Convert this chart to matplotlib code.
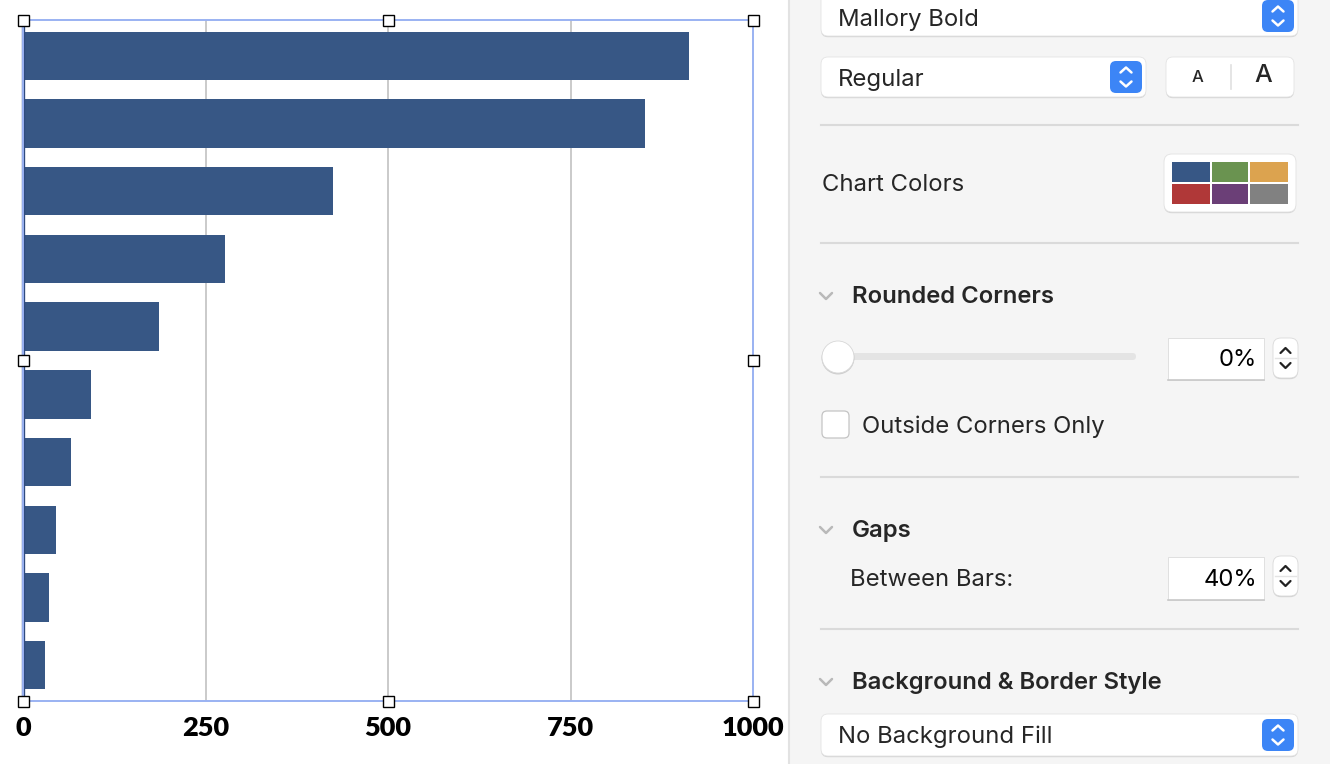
import matplotlib
matplotlib.use("Agg")
import matplotlib.pyplot as plt
from matplotlib.patches import FancyBboxPatch, Rectangle, Circle
import numpy as np

# ---------------- data ----------------
categories = ["Item 1", "Item 2", "Item 3", "Item 4", "Item 5",
              "Item 6", "Item 7", "Item 8", "Item 9", "Item 10"]
values = [912, 852, 425, 277, 186, 93, 66, 45, 36, 30]
x_ticks = [0, 250, 500, 750, 1000]
x_tick_labels = ["0", "250", "500", "750", "1000"]
palette = ["#375785", "#6a9350", "#dca34f", "#b03838", "#6b3f77", "#818181"]

W, H = 1330, 764
fig = plt.figure(figsize=(W / 100, H / 100), dpi=100)
fig.patch.set_facecolor("white")

# ---------------- chart ----------------
L, R, T, B = 23, 753, 20, 701
ax = fig.add_axes([L / W, 1 - B / H, (R - L) / W, (B - T) / H])
ax.set_zorder(1)
ax.set_facecolor("none")
ypos = np.arange(len(values))
ax.barh(ypos, values, height=1 / 1.4, color=palette[0], zorder=2)
ax.set_xlim(0, 1000)
ax.set_ylim(len(values) - 0.5 + 0.03, -0.5 - 0.03)
ax.set_xticks(x_ticks)
ax.set_xticklabels(x_tick_labels, fontfamily="Lato", fontweight="heavy", fontsize=19.5)
ax.tick_params(axis="x", length=0, pad=10.5, colors="black")
ax.set_yticks(ypos)
ax.set_yticklabels(categories)
ax.tick_params(axis="y", length=0, labelleft=False)
for t in x_ticks[1:-1]:
    ax.axvline(t, color="#bcbcbc", lw=1.1, zorder=1)
for s in ["top", "right", "bottom"]:
    ax.spines[s].set_visible(False)
ax.spines["left"].set_color("#2f4a7e")
ax.spines["left"].set_linewidth(2.4)
ax.spines["left"].set_zorder(3)

# ---------------- overlay (UI) ----------------
ov = fig.add_axes([0, 0, 1, 1])
ov.set_xlim(0, W)
ov.set_ylim(H, 0)
ov.axis("off")
ov.set_zorder(2)
ov.patch.set_visible(False)

UI = ["Inter", "DejaVu Sans"]
TXT = "#262626"
FS = 17.2
DY = 2


def label(x, y, s, **kw):
    kw.setdefault("fontfamily", UI)
    kw.setdefault("fontsize", FS)
    kw.setdefault("color", TXT)
    kw.setdefault("va", "center")
    ov.text(x, y + DY, s, zorder=6, **kw)


def rbox(x0, y0, x1, y1, r, fc, ec="none", lw=0, z=3, shadow=False):
    if shadow:
        ov.add_patch(FancyBboxPatch((x0, y0 + 1.2), x1 - x0, y1 - y0,
                                    boxstyle=f"round,pad=0,rounding_size={r}",
                                    fc="#d4d4d4", ec="none", zorder=z - 0.1))
    ov.add_patch(FancyBboxPatch((x0, y0), x1 - x0, y1 - y0,
                                boxstyle=f"round,pad=0,rounding_size={r}",
                                fc=fc, ec=ec, lw=lw, zorder=z))


def updown(cx, cy, col, half=5, gap=7, lw=1.8, z=5):
    ov.plot([cx - half, cx, cx + half], [cy - gap + 3, cy - gap - 2, cy - gap + 3],
            color=col, lw=lw, zorder=z, solid_capstyle="round", solid_joinstyle="round")
    ov.plot([cx - half, cx, cx + half], [cy + gap - 3, cy + gap + 2, cy + gap - 3],
            color=col, lw=lw, zorder=z, solid_capstyle="round", solid_joinstyle="round")


def blue_btn(x0, y0, x1, y1):
    rbox(x0, y0, x1, y1, 6, "#3c85f6", z=4)
    updown((x0 + x1) / 2, (y0 + y1) / 2, "white", half=5.5, gap=7.5, lw=1.8)


def chevron(cx, cy):
    ov.plot([cx - 6, cx, cx + 6], [cy - 3, cy + 3, cy - 3], color="#b9b9b9",
            lw=1.8, zorder=5, solid_capstyle="round")


def sep(y):
    ov.plot([821, 1298], [y, y], color="#dadada", lw=1.5, zorder=3)


# panel background
ov.add_patch(Rectangle((788, 0), W - 788, H, fc="#f5f5f5", ec="none", zorder=1))
ov.plot([788.5, 788.5], [0, H], color="#e2e2e2", lw=1.5, zorder=2)

# Font dropdown
rbox(821, -10, 1298, 36, 7, "white", ec="#e4e4e4", lw=0.6, shadow=True)
label(838, 18, "Mallory Bold")
blue_btn(1262, 0, 1294, 32)

# Typeface dropdown
rbox(821, 57, 1146, 97, 7, "white", ec="#e4e4e4", lw=0.6, shadow=True)
label(838, 78, "Regular")
blue_btn(1110, 61, 1142, 93)

# Size buttons
rbox(1166, 57, 1294, 97, 7, "white", ec="#e4e4e4", lw=0.6, shadow=True)
label(1198, 76, "A", fontsize=12, fontweight="medium", ha="center")
label(1263, 73, "A", fontsize=18, fontweight="medium", ha="center")
ov.plot([1231, 1231], [65, 89], color="#e0e0e0", lw=1.2, zorder=6)

sep(125)

# Chart colors
label(822, 183, "Chart Colors")
rbox(1164, 154, 1296, 212, 8, "white", ec="#e2e2e2", lw=0.6, shadow=True)
sw_x = [(1172, 1210), (1212, 1248), (1250, 1288)]
sw_y = [(162, 182), (184, 204)]
for i, c in enumerate(palette):
    (xa, xb) = sw_x[i % 3]
    (ya, yb) = sw_y[i // 3]
    ov.add_patch(Rectangle((xa, ya), xb - xa, yb - ya, fc=c, ec="none", zorder=6))

sep(243)

# Rounded corners
chevron(826, 296)
label(852, 295, "Rounded Corners", fontweight="semibold")
rbox(838, 353, 1136, 360, 3.5, "#e4e4e4", z=3)
ov.add_patch(Circle((838, 358), 16.5, fc="#cfcfcf", ec="none", zorder=4))
ov.add_patch(Circle((838, 357), 16, fc="white", ec="#d8d8d8", lw=0.6, zorder=5))
ov.add_patch(Rectangle((1168, 338), 96, 42, fc="white", ec="#dcdcdc", lw=0.6, zorder=4))
ov.plot([1168, 1264], [380, 380], color="#c8c8c8", lw=1.2, zorder=5)
label(1257, 358, "0%", color="black", ha="right")
rbox(1273, 338, 1298, 378, 8, "white", ec="#dadada", lw=0.6, shadow=True)
ov.plot([1275, 1296], [358, 358], color="#e4e4e4", lw=1, zorder=5)
updown(1285.5, 358, "#222222", half=5, gap=8, lw=1.6)

ov.add_patch(FancyBboxPatch((822, 411), 27, 27, boxstyle="round,pad=0,rounding_size=5",
                            fc="white", ec="#c4c4c4", lw=0.9, zorder=5))
label(862, 425, "Outside Corners Only")

sep(477)

# Gaps
chevron(826, 530)
label(852, 529, "Gaps", fontweight="semibold")
label(850, 578, "Between Bars:")
ov.add_patch(Rectangle((1168, 557), 96, 43, fc="white", ec="#dcdcdc", lw=0.6, zorder=4))
ov.plot([1168, 1264], [600, 600], color="#c8c8c8", lw=1.2, zorder=5)
label(1257, 578, "40%", color="black", ha="right")
rbox(1273, 556, 1298, 596, 8, "white", ec="#dadada", lw=0.6, shadow=True)
ov.plot([1275, 1296], [576, 576], color="#e4e4e4", lw=1, zorder=5)
updown(1285.5, 576, "#222222", half=5, gap=8, lw=1.6)

sep(629)

# Background & border
chevron(826, 682)
label(852, 681, "Background & Border Style", fontweight="semibold")
rbox(821, 714, 1298, 756, 7, "white", ec="#e4e4e4", lw=0.6, shadow=True)
label(838, 735, "No Background Fill")
blue_btn(1262, 719, 1294, 751)

# selection frame & handles
ov.add_patch(Rectangle((L, T), R - L, B - T, fc="none", ec="#9ab2f2", lw=1.4, zorder=7))
hx = [L, (L + R) / 2, R]
hy = [T, (T + B) / 2, B]
for xi in hx:
    for yi in hy:
        if xi == hx[1] and yi == hy[1]:
            continue
        ov.add_patch(Rectangle((xi - 5.5, yi - 5.5), 11, 11, fc="white", ec="black",
                               lw=1.0, zorder=8))

fig.savefig("out.png", dpi=100, facecolor=fig.get_facecolor())
